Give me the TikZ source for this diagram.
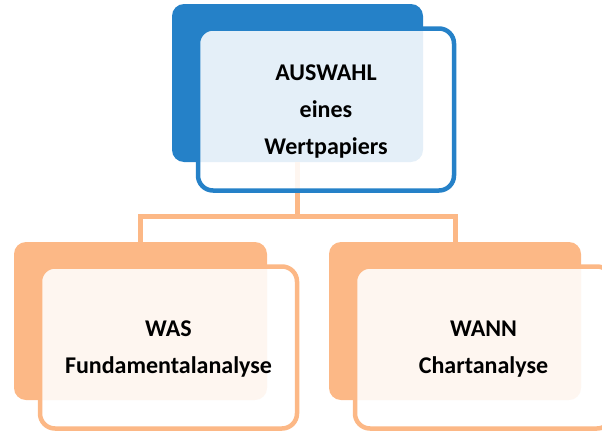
\documentclass[tikz,border=0pt]{standalone}
\usepackage{fontspec}
\setmainfont{Carlito}
\definecolor{bblue}{HTML}{2581C8}
\definecolor{borange}{HTML}{FCB886}
\tikzset{
  backbox/.style={rectangle, rounded corners=12pt, inner sep=0pt, outer sep=0pt, minimum height=158pt},
  frontbox/.style={rectangle, rounded corners=15pt, line width=4.5pt, fill=white, fill opacity=0.88, inner sep=0pt, outer sep=0pt, minimum height=162pt},
  label/.style={align=center, inner sep=0pt, font=\fontsize{24}{37}\selectfont\bfseries},
  conn/.style={draw=borange, line width=5pt}
}
\begin{document}
\begin{tikzpicture}[x=1pt,y=-1pt]
\useasboundingbox (0,0) rectangle (602,431);
\clip (0,0) rectangle (602,431);
% back boxes
\node[backbox, fill=bblue, minimum width=251pt] (tb) at (297.5,83) {};
\node[backbox, fill=borange, minimum width=253pt] (lb) at (140.5,321) {};
\node[backbox, fill=borange, minimum width=252pt] (rb) at (455,321) {};
% connectors
\coordinate (bus) at (297.5,216);
\draw[conn] (tb.south) -- (bus);
\draw[conn] (lb.north) |- (bus) -| (rb.north);
% front boxes
\node[frontbox, draw=bblue, minimum width=256pt] (tf) at (326,109.5) {};
\node[frontbox, draw=borange, minimum width=257pt] (lf) at (168.5,347.5) {};
\node[frontbox, draw=borange, minimum width=257pt] (rf) at (483.5,347.5) {};
% texts
\node[label] (tt) at ([yshift=-2.5pt]tf.center) {AUSWAHL\\eines\\Wertpapiers};
\node[label] (lt) at ([yshift=-2pt]lf.center) {WAS\\Fundamentalanalyse};
\node[label] (rt) at ([yshift=-2pt]rf.center) {WANN\\Chartanalyse};
\end{tikzpicture}
\end{document}
